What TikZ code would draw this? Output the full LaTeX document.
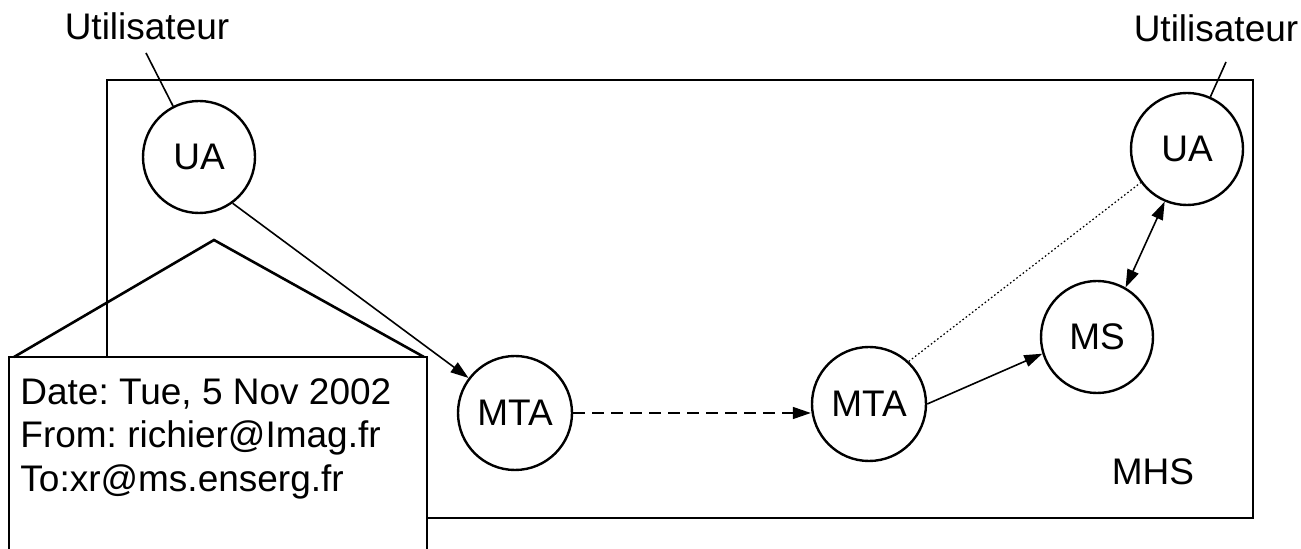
\documentclass[tikz,border=0pt]{standalone}
\usepackage{fontspec}
\setmainfont{Liberation Sans}
\usetikzlibrary{arrows.meta}
\frenchspacing
\begin{document}
\begin{tikzpicture}[x=0.5pt,y=-0.5pt,
  agent/.style={circle,draw,line width=1.2pt,minimum size=56pt,inner sep=0pt,text depth=0pt,font=\fontsize{18.5}{21}\selectfont},
  lbl/.style={font=\fontsize{18.5}{21}\selectfont,inner sep=0pt},
  conn/.style={line width=0.8pt},
  tip/.style={-{Triangle[length=9pt,width=6pt]}},
  dtip/.style={{Triangle[length=9pt,width=6pt]}-{Triangle[length=9pt,width=6pt]}},
  ]
\useasboundingbox (0,0) rectangle (1301,549);
% MHS box
\draw[line width=1.1pt] (107,80) rectangle (1253,518);
\node[lbl] (mhs) at (1153,472) {MHS};
% envelope
\draw[line width=1.2pt, fill=white] (9,357) rectangle (427,580);
\draw[line width=1.3pt] (14,357) -- (214,240) -- (424,357);
\node[lbl, anchor=base west] (l1) at (20,405) {Date: Tue, 5 Nov 2002};
\node[lbl, anchor=base west] (l2) at (20,448) {From: richier@Imag.fr};
\node[lbl, anchor=base west] (l3) at (20,492) {To:xr@ms.enserg.fr};
% users
\node[lbl, anchor=base] (userL) at (147,40) {Utilisateur};
\node[lbl, anchor=base] (userR) at (1216,42) {Utilisateur};
\coordinate (uL) at (146,53);
\coordinate (uR) at (1226,62);
% agents
\node[agent] (uaL) at (199,157) {UA};
\node[agent, minimum size=57pt] (mtaL) at (515,413) {MTA};
\node[agent, minimum size=57pt] (mtaR) at (869,404) {MTA};
\node[agent] (ms) at (1097,337) {MS};
\node[agent] (uaR) at (1187,149) {UA};
% connectors
\draw[conn] (uL) -- (uaL);
\draw[conn] (uR) -- (uaR);
\draw[conn,tip] (uaL.-54) -- (mtaL.143);
\draw[conn,tip,dash pattern=on 6pt off 3.5pt] (mtaL.east) -- (mtaL.east -| mtaR.west);
\draw[conn,tip] (mtaR.east) -- (ms.197);
\draw[line width=0.6pt, dash pattern=on 0.8pt off 1.2pt] (mtaR.47) -- (uaR.216);
\draw[conn,dtip] (ms.60) -- (uaR.247);
\end{tikzpicture}
\end{document}
